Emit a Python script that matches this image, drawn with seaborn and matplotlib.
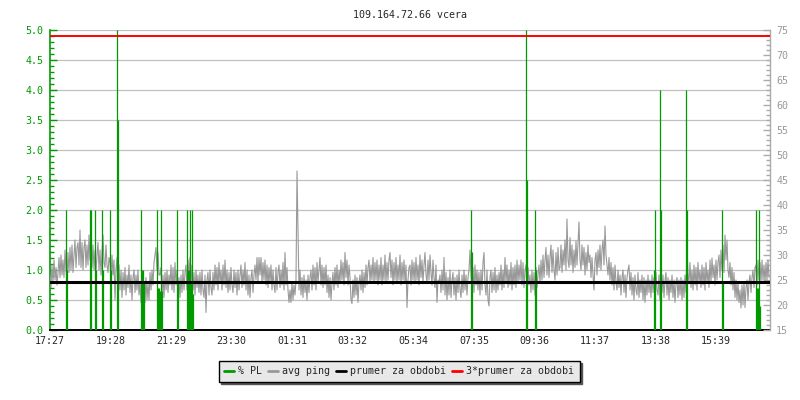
import numpy as np
import matplotlib
matplotlib.use("Agg")
import matplotlib.pyplot as plt
from matplotlib.ticker import MultipleLocator, FormatStrFormatter
from matplotlib.lines import Line2D
import seaborn as sns

# --- data ---
title = "109.164.72.66 vcera"
tick_labels = ["17:27", "19:28", "21:29", "23:30", "01:31", "03:32",
               "05:34", "07:35", "09:36", "11:37", "13:38", "15:39"]
tick_minutes = [0, 121, 242, 363, 484, 605, 727, 848, 969, 1090, 1211, 1332]
span_minutes = 1440
step_minutes = 2

# avg ping [ms], one row per hour starting 17:27, one value every 2 minutes
ping_ms = [
    26, 23.5, 28, 24.5, 29, 25, 27.5, 24, 26.5, 29.5, 25.5, 30, 26, 29, 25.5, 31, 27, 25, 30.5, 26.5, 31.5, 27, 32, 26.5, 30, 33, 27.5, 31.5, 32.5, 28,
    35, 27.5, 32.5, 27, 31.5, 33, 27.5, 32, 28, 34, 29, 33.5, 27.5, 32, 27, 31, 26.5, 30, 32.5, 27, 31, 26, 30.5, 34, 28.5, 27.5, 32, 28, 26.5, 29.5,
    28.5, 25.5, 30, 26, 29, 21, 27, 29.5, 23.5, 28, 23, 27, 21.5, 26.5, 23, 27.5, 22, 26, 23.5, 28, 22.5, 26, 21, 25.5, 27, 22.5, 26, 23, 27, 22,
    24.5, 20.5, 25, 21.5, 24, 20.5, 25.5, 21, 24.5, 21, 26.5, 23, 27, 24, 28.5, 30, 31.5, 27, 30.5, 26, 26, 27.5, 22, 26, 21.5, 26.5, 23, 27, 22.5, 26,
    24, 28, 23, 27.5, 22.5, 28.5, 24, 27, 22, 25.5, 21.5, 26, 22.5, 27, 23, 26.5, 28, 23, 29, 25.5, 29.5, 24, 28, 23, 26.5, 22, 27, 23.5, 26, 22.5,
    26.5, 22, 27, 23, 21.5, 26, 18.5, 25, 26.5, 22, 27, 23.5, 22, 26.5, 23, 28, 24, 27.5, 23, 28.5, 24.5, 27, 23, 28, 24, 29, 23.5, 27, 22.5, 26.5,
    23, 27.5, 24, 22.5, 27, 23.5, 26.5, 22, 27, 23, 26, 28, 23.5, 27, 24, 28.5, 23, 27, 22, 26, 21.5, 25.5, 27, 22.5, 26, 28, 25, 29.5, 24.5, 29.5,
    26, 29.5, 24.5, 28.5, 25, 29, 24, 28, 23.5, 27.5, 24.5, 28, 23, 27, 24, 22.5, 27.5, 23, 26.5, 28, 23.5, 27, 24, 28.5, 23, 30.5, 24, 27.5, 23, 20.5,
    23, 20.5, 24.5, 21, 24, 22, 25, 46.8, 35.5, 23, 27, 22, 25.5, 21.5, 26, 22.5, 25, 21, 26, 22.5, 25.5, 27, 23, 28, 24, 27.5, 23, 28.5, 24.5, 27,
    29.5, 24, 28, 23.5, 27.5, 24, 28, 22.5, 26, 21.5, 25.5, 21, 24.5, 26.5, 23, 27.5, 24, 28, 23.5, 27, 24.5, 29, 25, 28.5, 24, 30.5, 25.5, 29, 24, 28,
    25.5, 21, 20.3, 25, 21.5, 26, 22, 25.5, 20.5, 24.5, 26, 23, 27, 22.5, 26.5, 23.5, 28, 24, 27.5, 29, 24.5, 28, 25, 29.5, 24.5, 28.5, 25, 29, 24, 28,
    25, 29.5, 24, 28, 25, 30, 24.5, 28.5, 25, 29, 30.5, 25.5, 29, 24, 28.5, 25, 29.5, 24.5, 28, 25, 30, 24, 28.5, 25, 29, 24.5, 28, 19.5, 25, 27.5,
    28, 24, 29, 25, 28.5, 24.5, 29.5, 25, 28, 24, 30, 25.5, 29, 24.5, 28, 30.5, 26, 24.5, 29, 25, 30, 26.5, 24, 29, 25.5, 23.5, 28, 20.5, 25, 24.5,
    26, 22.5, 27, 23, 29.5, 22, 26.5, 21, 25.5, 22, 27, 21.5, 25, 26.5, 22, 25.5, 21, 26, 22.5, 27, 23, 21.5, 26, 22.5, 27, 23, 26, 22, 25.5, 27,
    31, 26, 23.5, 27.5, 22.5, 28, 24, 27, 23, 26.5, 22, 27, 23, 28.5, 30.5, 24, 22, 27, 21, 19.8, 25.5, 27, 22.5, 26.5, 23, 27.5, 22.5, 26, 23, 26.5,
    24, 28, 23, 27, 23.5, 29.5, 24.5, 28, 23.5, 27, 24, 28.5, 23, 27.5, 24, 28, 23.5, 29, 24.5, 28, 25, 29, 24, 28.5, 23.5, 27, 28, 23, 27.5, 24,
    26, 22.5, 27, 23, 26.5, 22, 27.5, 23.5, 26, 28, 24.5, 29, 25, 30, 25.5, 29, 31.5, 26, 30, 25.5, 29.5, 32, 26.5, 31, 27, 25, 30.5, 26, 31.5, 27,
    27.5, 32, 26.5, 31, 28, 33, 27, 37.2, 29, 27.5, 33.5, 28, 32, 26.5, 31, 27.5, 32.8, 28, 32.5, 36.6, 29, 27, 32, 28, 31.5, 26, 30.5, 27, 32, 28.5,
    30, 25.5, 29.5, 26, 23, 29, 30.5, 26, 31, 27.5, 32, 27, 31, 33, 28, 35.8, 30, 28, 26, 29.5, 25, 28.5, 24, 27.5, 23, 28, 24.5, 23, 27, 23.5,
    26, 22, 25.5, 27, 22.5, 26, 21.5, 25.5, 27, 28, 23, 26.5, 22, 25.5, 21, 26, 23, 22, 26.5, 21.5, 25, 22.5, 26, 21, 25.5, 20.5, 25, 22, 26, 22.5,
    25, 21.5, 26, 22.5, 25.5, 21, 26.5, 23, 22, 26, 21, 25.5, 22.5, 26, 21.5, 25, 26.5, 22, 25.5, 21, 25, 22.5, 26, 21.5, 25, 20.5, 24.5, 25.5, 21.5, 25,
    22, 25.5, 21, 25, 21.5, 26, 22.5, 31.4, 26, 24.5, 28.5, 23.5, 27, 23, 28, 24, 27.5, 23, 28.5, 24.5, 27, 23.5, 28, 24, 27.5, 23, 28.5, 24.5, 27, 23.5,
    29, 24.5, 29.4, 25.5, 28, 24, 29, 25, 28.5, 30, 25.5, 31, 27, 32, 26.5, 34, 29, 33, 27, 25.5, 28.5, 24, 27.5, 23, 26.5, 21.5, 25, 21, 24.5, 20.5,
    23, 19.4, 24, 20, 24.5, 19.5, 23.5, 25, 21, 24.5, 26, 22.5, 25.5, 27, 23.5, 27.5, 28, 24, 29, 25, 28.5, 24.5, 29, 25, 28, 24.5, 28.5, 25, 29, 25.5,
]
assert len(ping_ms) == span_minutes // step_minutes

# packet loss [%] - only non-zero samples (minutes from 17:27)
pl_minutes = [31, 33, 79, 81, 89, 91, 103, 105, 119, 121, 133, 135,
              182, 184, 186, 188, 214, 216, 218, 220, 222, 224, 254, 256,
              274, 276, 278, 280, 282, 284, 286, 842, 844, 951, 953, 969, 971,
              1207, 1209, 1219, 1221, 1271, 1273, 1343, 1345,
              1411, 1413, 1415, 1417, 1419]
pl_values = [2.0, 1.0, 2.0, 2.0, 2.0, 1.0, 2.0, 1.0, 2.0, 1.0, 5.0, 3.5,
             2.0, 1.0, 1.0, 0.8, 2.0, 0.7, 0.7, 0.65, 2.0, 0.65, 2.0, 0.8,
             2.0, 1.0, 1.0, 2.0, 0.8, 2.0, 0.6, 2.0, 1.3, 5.0, 2.5, 2.0, 1.0,
             1.0, 2.0, 4.0, 2.0, 4.0, 2.0, 2.0, 0.8,
             2.0, 0.7, 0.7, 2.0, 0.4]

avg_period = 24.6  # prumer za obdobi [ms]

GREEN = "#009900"
GRAY = "#999999"
RED = "#ff0000"

sns.set_style("white")
plt.rcParams["font.family"] = ["DejaVu Sans Mono"]
plt.rcParams["font.size"] = 7.2

minutes = np.arange(len(ping_ms)) * step_minutes

fig = plt.figure(figsize=(8, 4), dpi=100)
ax = fig.add_axes([0.0625, 0.175, 0.9, 0.75])   # PL scale (left)
ax_ping = ax.twinx()                              # ping scale (right)
ax_pl = ax.twinx()                                # PL marks on top of ping
ax_avg = ax.twinx()                               # averages on top

# base axis: grid, left + bottom axis
ax.set_xlim(0, span_minutes)
ax.set_ylim(0, 5)
ax.yaxis.set_major_locator(MultipleLocator(0.5))
ax.yaxis.set_minor_locator(MultipleLocator(0.1))
ax.yaxis.set_major_formatter(FormatStrFormatter("%.1f"))
ax.grid(axis="y", which="major", color="#c0c0c0", lw=0.9)
ax.set_axisbelow(True)
ax.set_xticks(tick_minutes)
ax.set_xticklabels(tick_labels)
ax.tick_params(axis="y", which="major", direction="in", length=5, width=1,
               color=GREEN, labelcolor=GREEN, pad=4.5)
ax.tick_params(axis="y", which="minor", direction="in", length=3, width=1, color=GREEN)
ax.tick_params(axis="x", direction="in", length=5, width=1, color="black", pad=4.5)
for side in ("top", "right"):
    ax.spines[side].set_visible(False)
ax.spines["left"].set_color(GREEN)
ax.spines["left"].set_linewidth(1.2)
ax.spines["bottom"].set_color("black")
ax.spines["bottom"].set_linewidth(1.4)

# avg ping on the right scale
sns.lineplot(x=minutes, y=ping_ms, ax=ax_ping, color=GRAY, linewidth=0.8)
ax_ping.set_ylim(15, 75)
ax_ping.set_xlim(0, span_minutes)
ax_ping.yaxis.set_major_locator(MultipleLocator(5))
ax_ping.yaxis.set_minor_locator(MultipleLocator(1))
ax_ping.set_xlabel("")
ax_ping.set_ylabel("")
ax_ping.tick_params(axis="y", which="major", direction="in", length=5, width=1,
                    color="#aaaaaa", labelcolor=GRAY, pad=4.5)
ax_ping.tick_params(axis="y", which="minor", direction="in", length=3, width=1, color="#aaaaaa")
for side in ("top", "left", "bottom"):
    ax_ping.spines[side].set_visible(False)
ax_ping.spines["right"].set_color("#aaaaaa")
ax_ping.spines["right"].set_linewidth(1.0)

# packet loss impulses
ax_pl.vlines(pl_minutes, 0, pl_values, colors=GREEN, linewidth=0.9)
ax_pl.set_ylim(0, 5)
ax_pl.set_yticks([])
for s in ax_pl.spines.values():
    s.set_visible(False)

# period averages
ax_avg.axhline(avg_period, color="black", lw=2.2)
ax_avg.axhline(3 * avg_period, color=RED, lw=1.4)
ax_avg.set_ylim(15, 75)
ax_avg.set_yticks([])
for s in ax_avg.spines.values():
    s.set_visible(False)

ax.set_title(title, fontsize=7.2, pad=9)

handles = [Line2D([], [], color=GREEN, lw=2),
           Line2D([], [], color=GRAY, lw=2),
           Line2D([], [], color="black", lw=2),
           Line2D([], [], color=RED, lw=2)]
labels = ["% PL", "avg ping", "prumer za obdobi", "3*prumer za obdobi"]
leg = fig.legend(handles, labels, loc="center", bbox_to_anchor=(0.499, 0.0725),
                 ncol=4, fancybox=False, framealpha=1, facecolor="#e8e8e8",
                 edgecolor="black", handlelength=1.0, handletextpad=0.4,
                 columnspacing=0.6, borderpad=0.55, fontsize=7.2,
                 shadow={"color": "#555555", "alpha": 1})
leg.get_frame().set_linewidth(1.0)

fig.savefig("out.png", dpi=100)
